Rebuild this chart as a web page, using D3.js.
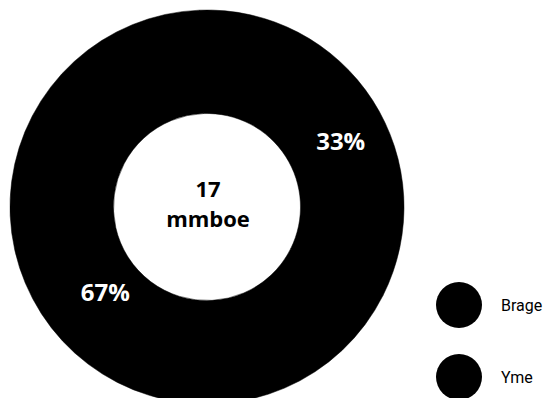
<!DOCTYPE html>
<html>
<head>
<meta charset="utf-8">
<script src="https://cdn.jsdelivr.net/npm/d3@7"></script>
<style>
  html, body { margin: 0; padding: 0; background: #fff; }
  svg { display: block; }
</style>
</head>
<body>
<svg id="chart" width="547" height="398"></svg>
<script>
// ---- data ----
const categories = ["Brage", "Yme"];
const values = [33, 67];
const percentLabels = ["33%", "67%"];
const centerLines = ["17", "mmboe"];
const colors = ["#000000", "#000000"];

// ---- layout ----
const W = 547, H = 398;
const cx = 207, cy = 207;
const outerR = 197, innerR = 93.5;
const labelR = 140;
const labelShift = [16, 10];

const svg = d3.select("#chart");

const pie = d3.pie().sort(null).value(d => d).startAngle(-0.038).endAngle(2 * Math.PI - 0.038);
const arcs = pie(values);
const arc = d3.arc().innerRadius(innerR).outerRadius(outerR);
const labelArc = d3.arc().innerRadius(labelR).outerRadius(labelR);
const color = d3.scaleOrdinal().domain(categories).range(colors);

const g = svg.append("g").attr("transform", `translate(${cx},${cy})`);

g.selectAll("path.slice")
  .data(arcs)
  .join("path")
  .attr("class", "slice")
  .attr("d", arc)
  .attr("fill", (d, i) => color(categories[i]))
  .attr("stroke", (d, i) => color(categories[i]))
  .attr("stroke-width", 0.5)
  .attr("stroke-linejoin", "round");

// seam cover: radial edges between slices drawn as thin lines in slice colour
g.selectAll("line.seam")
  .data(arcs)
  .join("line")
  .attr("class", "seam")
  .attr("x1", d => (innerR + 1) * Math.sin(d.startAngle))
  .attr("y1", d => -(innerR + 1) * Math.cos(d.startAngle))
  .attr("x2", d => (outerR - 1) * Math.sin(d.startAngle))
  .attr("y2", d => -(outerR - 1) * Math.cos(d.startAngle))
  .attr("stroke", (d, i) => color(categories[i]))
  .attr("stroke-width", 2);

g.selectAll("text.pct")
  .data(arcs)
  .join("text")
  .attr("class", "pct")
  .attr("transform", d => {
    const [x, y] = labelArc.centroid(d);
    return `translate(${x + labelShift[0]},${y + labelShift[1]})`;
  })
  .attr("text-anchor", "middle")
  .attr("dy", "0.36em")
  .attr("fill", "#fff")
  .attr("font-family", "'Open Sans', sans-serif")
  .attr("font-weight", 700)
  .attr("font-size", 24)
  .text((d, i) => percentLabels[i]);

// center text
const ct = g.append("text")
  .attr("text-anchor", "middle")
  .attr("font-family", "'Open Sans', sans-serif")
  .attr("font-weight", 700)
  .attr("font-size", 22)
  .attr("fill", "#000");
ct.selectAll("tspan")
  .data(centerLines)
  .join("tspan")
  .attr("x", 1)
  .attr("y", (d, i) => -10.5 + i * 30)
  .text(d => d);

// legend
const legendX = 459, legendY0 = 305, legendStep = 72, legendR = 23;
const lg = svg.append("g");
const items = lg.selectAll("g.item")
  .data(categories)
  .join("g")
  .attr("class", "item")
  .attr("transform", (d, i) => `translate(${legendX},${legendY0 + i * legendStep})`);
items.append("circle")
  .attr("r", legendR)
  .attr("fill", d => color(d));
items.append("text")
  .attr("x", 42)
  .attr("y", 5.5)
  .attr("font-family", "Roboto, sans-serif")
  .attr("font-size", 16)
  .attr("fill", "#000")
  .text(d => d);
</script>
</body>
</html>
